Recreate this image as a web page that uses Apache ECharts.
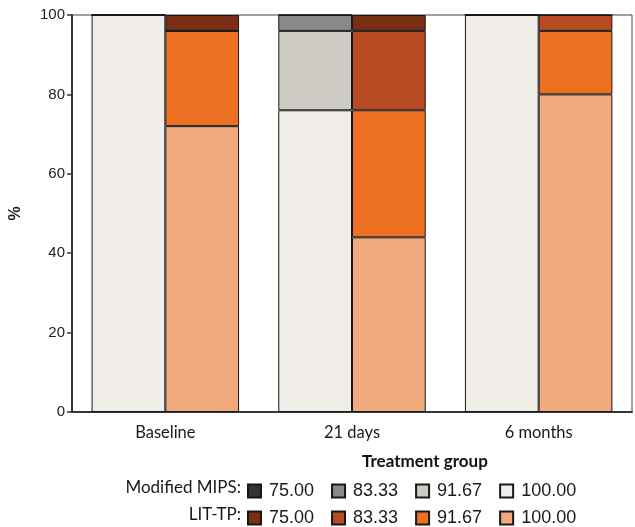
<!DOCTYPE html>
<html>
<head>
<meta charset="utf-8">
<script src="https://cdn.jsdelivr.net/npm/echarts@6/dist/echarts.min.js"></script>
<style>html,body{margin:0;padding:0;background:#fff}#c{width:635px;height:527px}</style>
</head>
<body>
<div id="c"></div>
<script>
var categories = ['Baseline', '21 days', '6 months'];
var levels = ['100.00', '91.67', '83.33', '75.00'];   // stacking order bottom -> top
var yTicks = [0, 20, 40, 60, 80, 100];
// Modified MIPS (% of patients per score)
var mips_100 = [100, 76, 100];
var mips_9167 = [0, 20, 0];
var mips_8333 = [0, 4, 0];
var mips_75 = [0, 0, 0];
// LIT-TP
var lit_100 = [72, 44, 80];
var lit_9167 = [24, 32, 16];
var lit_8333 = [0, 20, 4];
var lit_75 = [4, 4, 0];

var mipsColors = {'100.00': '#f1eeea', '91.67': '#cecbc5', '83.33': '#8a8987', '75.00': '#333333'};
var litColors = {'100.00': '#f0aa7e', '91.67': '#ee7022', '83.33': '#b84a22', '75.00': '#7a2e14'};
var mipsData = {'100.00': mips_100, '91.67': mips_9167, '83.33': mips_8333, '75.00': mips_75};
var litData = {'100.00': lit_100, '91.67': lit_9167, '83.33': lit_8333, '75.00': lit_75};

var series = [];
levels.forEach(function (lv) {
  series.push({
    name: 'MIPS ' + lv, type: 'bar', stack: 'mips', data: mipsData[lv],
    barGap: '0%', barCategoryGap: '21%',
    itemStyle: {color: mipsColors[lv], borderColor: '#15191b', borderWidth: 1}
  });
});
levels.forEach(function (lv) {
  series.push({
    name: 'LIT ' + lv, type: 'bar', stack: 'lit', data: litData[lv],
    barGap: '0%', barCategoryGap: '21%',
    itemStyle: {color: litColors[lv], borderColor: '#15191b', borderWidth: 1}
  });
});

var legendOrder = ['75.00', '83.33', '91.67', '100.00'];
function mkLegend(prefix, top) {
  return {
    left: 247, top: top, orient: 'horizontal', padding: 0,
    itemWidth: 13, itemHeight: 13, itemGap: 17,
    icon: 'rect', selectedMode: false,
    data: legendOrder.map(function (l) { return prefix + l; }),
    formatter: function (n) { return n.split(' ')[1]; },
    textStyle: {fontFamily: 'Liberation Sans, Arial', fontSize: 18, color: '#1a1a1a', padding: [0, 0, 0, 3]}
  };
}

var chart = echarts.init(document.getElementById('c'), null, {renderer: 'canvas'});
chart.setOption({
  animation: false,
  backgroundColor: '#fff',
  grid: {left: 68, right: 3, top: 15, bottom: 115, show: true, borderColor: '#3a474c', borderWidth: 1, backgroundColor: 'transparent'},
  legend: [mkLegend('MIPS ', 482), mkLegend('LIT ', 509)],
  graphic: [
    {type: 'text', left: 362, top: 453, style: {text: 'Treatment group', fontFamily: 'Lato', fontWeight: 'bold', fontSize: 17, fill: '#111', align: 'center'}},
    {type: 'text', right: 394, top: 479, style: {text: 'Modified MIPS:', fontFamily: 'Lato', fontSize: 17, fill: '#1a1a1a', align: 'right'}},
    {type: 'text', right: 394, top: 506, style: {text: 'LIT-TP:', fontFamily: 'Lato', fontSize: 17, fill: '#1a1a1a', align: 'right'}}
  ],
  xAxis: {
    type: 'category', data: categories,
    axisLine: {show: true, lineStyle: {color: '#2b383d', width: 2}},
    axisTick: {show: false},
    axisLabel: {fontFamily: 'Lato', fontSize: 16.5, color: '#1a1a1a', margin: 12}
  },
  yAxis: {
    type: 'value', min: 0, max: 100, interval: 20,
    name: '%', nameLocation: 'middle', nameGap: 48, nameRotate: 90,
    nameTextStyle: {fontFamily: 'Liberation Sans', fontSize: 16, color: '#1a1a1a', fontWeight: 'bold'},
    axisLine: {show: true, lineStyle: {color: '#2b383d', width: 2}},
    axisTick: {show: true, length: 5, lineStyle: {color: '#2b383d', width: 1.5}},
    splitLine: {show: false},
    axisLabel: {fontFamily: 'Liberation Sans', fontSize: 15, color: '#222', margin: 7,
      formatter: function (v) { return yTicks.indexOf(v) >= 0 ? String(v) : ''; }}
  },
  series: series
});
</script>
</body>
</html>
